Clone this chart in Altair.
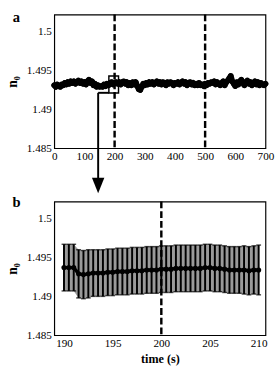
import altair as alt
import pandas as pd

# ---------- panel a data ----------
t_a = list(range(0, 705, 5))
n_a = [
    1.4931, 1.4929, 1.4932, 1.4930, 1.4929, 1.4932, 1.4931, 1.4934, 1.4932, 1.4935,
    1.4933, 1.4936, 1.4934, 1.4936, 1.4933, 1.4935, 1.4937, 1.4934, 1.4936, 1.4933,
    1.4935, 1.4932, 1.4936, 1.4938, 1.4934, 1.4936, 1.4931, 1.4933, 1.4929, 1.4931,
    1.4929, 1.4930, 1.4929, 1.4932, 1.4930, 1.4933, 1.4931, 1.4934, 1.4935, 1.4932,
    1.4934, 1.4935, 1.4933, 1.4935, 1.4932, 1.4935, 1.4936, 1.4933, 1.4935, 1.4931,
    1.4934, 1.4931, 1.4935, 1.4932, 1.4935, 1.4930, 1.4926, 1.4925, 1.4929, 1.4933,
    1.4931, 1.4934, 1.4932, 1.4935, 1.4933, 1.4935, 1.4932, 1.4934, 1.4936, 1.4933,
    1.4935, 1.4932, 1.4935, 1.4934, 1.4931, 1.4935, 1.4933, 1.4935, 1.4934, 1.4931,
    1.4934, 1.4933, 1.4935, 1.4932, 1.4934, 1.4936, 1.4933, 1.4935, 1.4931, 1.4934,
    1.4935, 1.4932, 1.4934, 1.4931, 1.4933, 1.4931, 1.4934, 1.4931, 1.4932, 1.4930,
    1.4933, 1.4931, 1.4934, 1.4933, 1.4935, 1.4934, 1.4936, 1.4932, 1.4935, 1.4933,
    1.4931, 1.4934, 1.4936, 1.4931, 1.4935, 1.4937, 1.4940, 1.4943, 1.4936, 1.4933,
    1.4930, 1.4935, 1.4932, 1.4936, 1.4938, 1.4934, 1.4931, 1.4935, 1.4937, 1.4933,
    1.4935, 1.4931, 1.4934, 1.4936, 1.4932, 1.4935, 1.4931, 1.4934, 1.4932, 1.4931,
    1.4933,
]
events_a = [200, 500]
x_ticks_a = [0, 100, 200, 300, 400, 500, 600, 700]
y_ticks = [1.485, 1.49, 1.495, 1.5]

# zoom box and arrow (data units of panel a)
box_t = [181, 213]
box_n = [1.4921, 1.4943]
arrow_t = 145.5
arrow_top = 1.49213
arrow_bottom = 1.4806
arrow_head = 1.48020

# ---------- panel b data ----------
t_b = [190 + 0.5 * i for i in range(41)]
n_b = [
    1.4937, 1.4937, 1.4937, 1.4929, 1.4928, 1.4929, 1.4930, 1.4930, 1.4930, 1.4931,
    1.4931, 1.4932, 1.4932, 1.4932, 1.4933, 1.4933, 1.4933, 1.4934, 1.4934, 1.4934,
    1.4935, 1.4935, 1.4935, 1.4936, 1.4936, 1.4936, 1.4936, 1.4936, 1.4936, 1.4937,
    1.4937, 1.4936, 1.4936, 1.4935, 1.4934, 1.4934, 1.4934, 1.4934, 1.4933, 1.4934,
    1.4934,
]
err_b = [
    0.0030, 0.0030, 0.0030, 0.0031, 0.0031, 0.0031, 0.0030, 0.0030, 0.0030, 0.0030,
    0.0030, 0.0030, 0.0030, 0.0030, 0.0030, 0.0030, 0.0030, 0.0030, 0.0030, 0.0030,
    0.0030, 0.0030, 0.0030, 0.0030, 0.0030, 0.0030, 0.0030, 0.0030, 0.0030, 0.0030,
    0.0030, 0.0030, 0.0030, 0.0030, 0.0030, 0.0030, 0.0030, 0.0031, 0.0031, 0.0031,
    0.0032,
]
events_b = [200]
x_ticks_b = [190, 195, 200, 205, 210]

FONT = "Liberation Serif"
W, H = 218, 138

df_a = pd.DataFrame({"t": t_a, "n": n_a})
df_b = pd.DataFrame({"t": t_b, "n": n_b, "err": err_b})
df_b["lo"] = df_b["n"] - df_b["err"]
df_b["hi"] = df_b["n"] + df_b["err"]

AX = dict(labelFont=FONT, labelFontSize=11.5, labelColor="black",
          titleFont=FONT, titleFontWeight="bold", titleColor="black",
          ticks=False, domain=False, grid=False, labelPadding=3,
          labelOverlap=False, labelFlush=False)

y_scale = alt.Scale(domain=[1.485, 1.5022], nice=False, zero=False)
y_axis = alt.Axis(values=y_ticks, format=".3~f", title="n₀", titlePadding=7,
                  titleFontSize=14, **AX)

def YA(field):
    return alt.Y(field, scale=y_scale, axis=y_axis)

# ---------- panel a ----------
xa_scale = alt.Scale(domain=[0, 700], nice=False, zero=False)
xa_axis = alt.Axis(values=x_ticks_a, title=None, format="d", **AX)

def XA(field):
    return alt.X(field, scale=xa_scale, axis=xa_axis)

line_a = alt.Chart(df_a).mark_line(color="black", strokeWidth=6, strokeJoin="round",
                                   strokeCap="round").encode(x=XA("t:Q"), y=YA("n:Q"))
pts_a = alt.Chart(df_a).mark_circle(color="black", size=32, opacity=1).encode(
    x=XA("t:Q"), y=YA("n:Q"))
rules_a = alt.Chart(pd.DataFrame({"t": events_a})).mark_rule(
    color="black", strokeWidth=2.5, strokeDash=[7, 3]).encode(x=XA("t:Q"))
box = alt.Chart(pd.DataFrame({"t": [box_t[0]], "t2": [box_t[1]],
                              "n": [box_n[0]], "n2": [box_n[1]]})).mark_rect(
    fillOpacity=0, stroke="black", strokeWidth=1.5).encode(
    x=XA("t:Q"), x2="t2:Q", y=YA("n:Q"), y2="n2:Q")
shaft = alt.Chart(pd.DataFrame({"t": [arrow_t], "n": [arrow_top], "n2": [arrow_bottom]})).mark_rule(
    color="black", strokeWidth=2).encode(x=XA("t:Q"), y=YA("n:Q"), y2="n2:Q")
hbar = alt.Chart(pd.DataFrame({"t": [arrow_t], "t2": [box_t[0]], "n": [arrow_top]})).mark_rule(
    color="black", strokeWidth=2).encode(x=XA("t:Q"), x2="t2:Q", y=YA("n:Q"))
head = alt.Chart(pd.DataFrame({"t": [arrow_t], "n": [arrow_head]})).mark_point(
    shape="M-0.8,-1L0.8,-1L0,1Z", size=256, filled=True, color="black", opacity=1).encode(
    x=XA("t:Q"), y=YA("n:Q"))
lab_a = alt.Chart(pd.DataFrame({"k": [0]})).mark_text(
    text="a", font=FONT, fontWeight="bold", fontSize=15, baseline="middle", align="center",
    color="black").encode(x=alt.value(-39), y=alt.value(3))

panel_a = alt.layer(line_a, pts_a, rules_a, box, shaft, hbar, head, lab_a).properties(
    width=W, height=H)

# ---------- panel b ----------
xb_scale = alt.Scale(domain=[189, 210.7], nice=False, zero=False)
xb_axis = alt.Axis(values=x_ticks_b, title="time (s)", titleFontSize=12.5,
                   titlePadding=4, format="d", **AX)

def XB(field):
    return alt.X(field, scale=xb_scale, axis=xb_axis)

band = alt.Chart(df_b).mark_area(color="#9a9a9a", opacity=1).encode(
    x=XB("t:Q"), y=YA("lo:Q"), y2="hi:Q")
bars = alt.Chart(df_b).mark_rule(color="black", strokeWidth=2).encode(
    x=XB("t:Q"), y=YA("lo:Q"), y2="hi:Q")
cap_lo = alt.Chart(df_b).mark_tick(color="black", orient="horizontal", size=5, thickness=1.5).encode(
    x=XB("t:Q"), y=YA("lo:Q"))
cap_hi = alt.Chart(df_b).mark_tick(color="black", orient="horizontal", size=5, thickness=1.5).encode(
    x=XB("t:Q"), y=YA("hi:Q"))
line_b = alt.Chart(df_b).mark_line(color="black", strokeWidth=3.5, strokeJoin="round").encode(
    x=XB("t:Q"), y=YA("n:Q"))
pts_b = alt.Chart(df_b).mark_circle(color="black", size=28, opacity=1).encode(
    x=XB("t:Q"), y=YA("n:Q"))
rules_b = alt.Chart(pd.DataFrame({"t": events_b})).mark_rule(
    color="black", strokeWidth=2.5, strokeDash=[7, 3]).encode(x=XB("t:Q"))
lab_b = alt.Chart(pd.DataFrame({"k": [0]})).mark_text(
    text="b", font=FONT, fontWeight="bold", fontSize=15, baseline="middle", align="center",
    color="black").encode(x=alt.value(-39), y=alt.value(1))

panel_b = alt.layer(band, bars, cap_lo, cap_hi, line_b, pts_b, rules_b, lab_b).properties(
    width=W, height=H)

chart = alt.vconcat(panel_a, panel_b, spacing=55, bounds="flush").properties(
    padding={"left": 5, "top": 4, "right": 5, "bottom": 2},
    background="white",
).configure_view(
    stroke="black", strokeWidth=1.2
).configure_axis(
    labelOverlap=False, labelFont=FONT
)

chart.save("out.html", embed_options={"renderer": "svg", "actions": False})
